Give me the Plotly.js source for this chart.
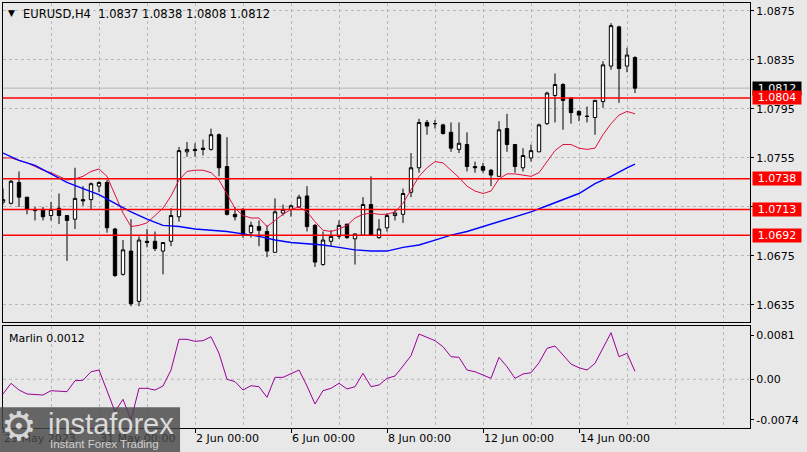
<!DOCTYPE html>
<html>
<head>
<meta charset="utf-8">
<script src="https://cdn.plot.ly/plotly-3.0.1.min.js"></script>
<style>
  html, body { margin: 0; padding: 0; background: #e8e8e8; }
  #chart { width: 807px; height: 452px; }
</style>
</head>
<body>
<div id="chart"></div>
<script>
// ---------- data ----------
const symbol = 'EURUSD';
const timeframe = 'H4';
const days = ['29 May','30 May','31 May','1 Jun','2 Jun','5 Jun','6 Jun','7 Jun','8 Jun','9 Jun','12 Jun','13 Jun','14 Jun','15 Jun'];
const hours = ['00:00','04:00','08:00','12:00','16:00','20:00'];

const open  = [1.0719,1.0718,1.0735,1.0723,1.0713,1.0713,1.0708,1.0714,1.0708,1.0705,
               1.0721,1.0721,1.0732,1.0735,1.0697,1.0660,1.0679,1.0638,1.0687,1.0687,
               1.0679,1.0687,1.0707,1.0760,1.0762,1.0763,1.0762,1.0774,1.0748,1.0709,
               1.0713,1.0694,1.0699,1.0695,1.0678,1.0710,1.0713,1.0715,1.0724,1.0700,
               1.0668,1.0687,1.0691,1.0701,1.0689,1.0692,1.0717,1.0690,1.0698,1.0708,
               1.0709,1.0727,1.0747,1.0784,1.0783,1.0782,1.0776,1.0762,1.0766,1.0748,
               1.0748,1.0745,1.0740,1.0779,1.0766,1.0747,1.0755,1.0760,1.0783,1.0806,
               1.0815,1.0804,1.0793,1.0789,1.0788,1.0801,1.0830,1.0862,1.0830,1.0837];
const high  = [1.0730,1.0737,1.0744,1.0723,1.0715,1.0715,1.0719,1.0726,1.0708,1.0747,
               1.0732,1.0735,1.0736,1.0737,1.0698,1.0688,1.0705,1.0691,1.0697,1.0695,
               1.0686,1.0714,1.0764,1.0768,1.0767,1.0770,1.0779,1.0775,1.0772,1.0715,
               1.0714,1.0703,1.0704,1.0700,1.0722,1.0717,1.0717,1.0725,1.0732,1.0701,
               1.0695,1.0696,1.0704,1.0701,1.0693,1.0723,1.0740,1.0705,1.0710,1.0713,
               1.0730,1.0759,1.0787,1.0786,1.0786,1.0783,1.0784,1.0784,1.0776,1.0752,
               1.0751,1.0746,1.0785,1.0791,1.0766,1.0763,1.0766,1.0783,1.0809,1.0824,
               1.0816,1.0804,1.0794,1.0797,1.0802,1.0834,1.0865,1.0863,1.0845,1.0838];
const low   = [1.0717,1.0717,1.0715,1.0709,1.0704,1.0704,1.0704,1.0701,1.0671,1.0697,
               1.0716,1.0713,1.0727,1.0694,1.0658,1.0659,1.0634,1.0634,1.0682,1.0679,
               1.0660,1.0683,1.0703,1.0756,1.0756,1.0757,1.0761,1.0740,1.0708,1.0704,
               1.0690,1.0690,1.0683,1.0674,1.0678,1.0708,1.0707,1.0714,1.0695,1.0666,
               1.0667,1.0683,1.0689,1.0689,1.0668,1.0692,1.0692,1.0689,1.0695,1.0704,
               1.0702,1.0723,1.0743,1.0774,1.0779,1.0774,1.0760,1.0759,1.0744,1.0743,
               1.0743,1.0732,1.0740,1.0760,1.0743,1.0744,1.0752,1.0760,1.0782,1.0784,
               1.0778,1.0783,1.0785,1.0784,1.0774,1.0796,1.0827,1.0800,1.0825,1.0808];
const close = [1.0721,1.0736,1.0723,1.0713,1.0712,1.0707,1.0713,1.0708,1.0704,1.0722,
               1.0720,1.0734,1.0735,1.0698,1.0659,1.0680,1.0636,1.0688,1.0686,1.0681,
               1.0686,1.0708,1.0761,1.0762,1.0761,1.0762,1.0774,1.0747,1.0709,1.0707,
               1.0692,1.0700,1.0696,1.0679,1.0711,1.0713,1.0716,1.0723,1.0699,1.0670,
               1.0688,1.0691,1.0700,1.0690,1.0693,1.0717,1.0692,1.0697,1.0708,1.0710,
               1.0726,1.0747,1.0784,1.0781,1.0783,1.0775,1.0763,1.0767,1.0748,1.0747,
               1.0745,1.0741,1.0778,1.0766,1.0748,1.0757,1.0761,1.0782,1.0808,1.0815,
               1.0802,1.0792,1.0790,1.0789,1.0802,1.0831,1.0863,1.0828,1.0839,1.0812];

// fast moving average (red), one value per bar
const maFast = [1.0755,1.0755,1.0753,1.0751,1.0748,1.0745,1.0743,1.0740,1.0737,1.0738,
                1.0740,1.0744,1.0746,1.0740,1.0725,1.0710,1.0699,1.0700,1.0702,1.0708,
                1.0714,1.0724,1.0737,1.0744,1.0745,1.0745,1.0743,1.0737,1.0726,1.0714,
                1.0708,1.0706,1.0706,1.0699,1.0704,1.0709,1.0713,1.0715,1.0711,1.0703,
                1.0696,1.0695,1.0697,1.0700,1.0706,1.0709,1.0710,1.0709,1.0709,1.0711,
                1.0718,1.0729,1.0740,1.0747,1.0752,1.0751,1.0745,1.0739,1.0732,1.0728,
                1.0726,1.0728,1.0738,1.0742,1.0742,1.0741,1.0740,1.0743,1.0752,1.0761,
                1.0766,1.0766,1.0763,1.0762,1.0763,1.0774,1.0783,1.0790,1.0793,1.0791];

// slow moving average (blue), read at these bars
const maSlowBars = [0,2,4,6,8,10,12,14,16,18,20,22,24,26,28,30,32,34,36,38,
                    40,42,44,46,48,50,52,54,56,58,60,62,64,66,68,70,72,74,76,78,79];
const maSlow = [1.0759,1.0753,1.0749,1.0742,1.0735,1.0730,1.0725,1.0718,1.0711,1.0705,
                1.0700,1.0699,1.0697,1.0696,1.0695,1.0693,1.0691,1.0688,1.0686,1.0685,
                1.0684,1.0682,1.0680,1.0679,1.0679,1.0682,1.0684,1.0688,1.0692,1.0695,
                1.0699,1.0703,1.0707,1.0711,1.0716,1.0721,1.0726,1.0734,1.0740,1.0747,1.0750];

// Marlin oscillator
const marlin = [-0.00223,-0.00061,-0.00163,-0.00223,-0.00231,-0.00239,-0.00173,-0.00178,-0.00188,-0.00021,
                -0.00015,0.00115,0.00141,-0.00173,-0.00492,-0.00304,-0.00618,-0.00137,-0.00137,-0.00163,
                -0.00102,0.00141,0.00608,0.00608,0.00577,0.00587,0.00647,0.00395,0.00000,-0.00036,
                -0.00163,-0.00097,-0.00112,-0.00274,0.00030,0.00030,0.00091,0.00141,-0.00102,-0.00375,
                -0.00173,-0.00137,-0.00061,-0.00147,-0.00112,0.00091,-0.00112,-0.00087,0.00015,0.00050,
                0.00202,0.00359,0.00688,0.00638,0.00587,0.00495,0.00343,0.00334,0.00141,0.00115,
                0.00065,0.00015,0.00334,0.00191,0.00015,0.00081,0.00100,0.00252,0.00471,0.00506,
                0.00369,0.00232,0.00176,0.00141,0.00243,0.00471,0.00708,0.00343,0.00395,0.00120];
const marlinMax = 0.0081;
const marlinMin = -0.0074;

const levels = [1.0804, 1.0738, 1.0713, 1.0692];

const priceTicks = [1.0875, 1.0835, 1.0795, 1.0755, 1.0715, 1.0675, 1.0635];
const priceTickText = ['1.0875', '1.0835', '1.0795', '1.0755', '', '1.0675', '1.0635'];
const tickTimes = ['29 May 00:00','31 May 00:00','2 Jun 00:00','6 Jun 00:00','8 Jun 00:00','12 Jun 00:00','14 Jun 00:00'];
const tickLabels = ['29 May 2023','31 May 00:00','2 Jun 00:00','6 Jun 00:00','8 Jun 00:00','12 Jun 00:00','14 Jun 00:00'];

// ---------- build ----------
const times = [];
days.forEach(d => hours.forEach(h => times.push(d + ' ' + h)));
times.length = open.length;
const bar = times.map((t, i) => i);
const tickBars = tickTimes.map(t => times.indexOf(t));
const last = open.length - 1;

const FONT = 'DejaVu Sans, Verdana, sans-serif';
const GRID = '#b8b8b8';
const BG = '#e8e8e8';

const traces = [
  {
    type: 'candlestick', x: bar, open, high, low, close,
    xaxis: 'x', yaxis: 'y',
    increasing: { fillcolor: '#ffffff', line: { color: '#000000', width: 1 } },
    decreasing: { fillcolor: '#000000', line: { color: '#000000', width: 1 } },
    whiskerwidth: 0, hoverinfo: 'skip'
  },
  {
    type: 'scatter', mode: 'lines', x: bar, y: maFast,
    xaxis: 'x', yaxis: 'y', line: { color: '#e0103c', width: 1 }, hoverinfo: 'skip'
  },
  {
    type: 'scatter', mode: 'lines', x: maSlowBars.map(i => bar[i]), y: maSlow,
    xaxis: 'x', yaxis: 'y', line: { color: '#0000ff', width: 1.4 }, hoverinfo: 'skip'
  },
  {
    type: 'scatter', mode: 'lines', x: bar, y: marlin,
    xaxis: 'x2', yaxis: 'y2', line: { color: '#990099', width: 1 }, hoverinfo: 'skip'
  }
];

const shapes = [];
// current price line
shapes.push({ type: 'line', xref: 'x domain', x0: 0, x1: 1, yref: 'y', y0: close[last], y1: close[last],
  line: { color: '#b4b4b4', width: 1 }, layer: 'below' });
levels.forEach(v => shapes.push({ type: 'line', xref: 'x domain', x0: 0, x1: 1, yref: 'y', y0: v, y1: v,
  line: { color: '#ff0000', width: 1.5 }, layer: 'above' }));
// zero line in oscillator
shapes.push({ type: 'line', xref: 'x2 domain', x0: 0, x1: 1, yref: 'y2', y0: 0, y1: 0,
  line: { color: GRID, width: 1, dash: '3px,3px' }, layer: 'below' });
// watermark plate
shapes.push({ type: 'rect', xref: 'paper', yref: 'paper', x0: -0.004, x1: 0.237, y0: -0.057, y1: 0.049,
  fillcolor: 'rgba(72,72,72,0.82)', line: { width: 0 }, layer: 'above' });

const annotations = [];
annotations.push({ xref: 'paper', yref: 'paper', x: 0, y: 1, xanchor: 'left', yanchor: 'top',
  xshift: 3, yshift: -3, text: '▼', showarrow: false, font: { family: FONT, size: 9, color: '#000' } });
annotations.push({ xref: 'paper', yref: 'paper', x: 0, y: 1, xanchor: 'left', yanchor: 'top',
  xshift: 18, yshift: -2, showarrow: false, font: { family: FONT, size: 11.5, color: '#000' },
  text: `${symbol},${timeframe}  ${open[last].toFixed(4)} ${high[last].toFixed(4)} ${low[last].toFixed(4)} ${close[last].toFixed(4)}` });
annotations.push({ xref: 'x2 domain', yref: 'y2 domain', x: 0, y: 1, xanchor: 'left', yanchor: 'top',
  xshift: 4, yshift: -4, showarrow: false, font: { family: FONT, size: 11, color: '#000' },
  text: `Marlin ${marlin[last].toFixed(4)}` });
// price labels on the right
annotations.push({ xref: 'paper', yref: 'y', x: 1, y: close[last], xanchor: 'left', yanchor: 'middle', xshift: 2,
  text: close[last].toFixed(4), showarrow: false, bgcolor: '#000000', borderpad: 0, width: 48, height: 13,
  font: { family: FONT, size: 11, color: '#ffffff' } });
levels.forEach(v => annotations.push({ xref: 'paper', yref: 'y', x: 1, y: v, xanchor: 'left', yanchor: 'middle', xshift: 2,
  text: v.toFixed(4), showarrow: false, bgcolor: '#ff0000', borderpad: 0, width: 48, height: 13,
  font: { family: FONT, size: 11, color: '#ffffff' } }));
// watermark text
annotations.push({ xref: 'paper', yref: 'paper', x: 0, y: -0.056, xanchor: 'left', yanchor: 'bottom', xshift: -4, yshift: 1,
  text: '⚙', showarrow: false, font: { family: 'DejaVu Sans', size: 40, color: '#d6d6d6' } });
annotations.push({ xref: 'paper', yref: 'paper', x: 0, y: 0.05, xanchor: 'left', yanchor: 'top', xshift: 43, yshift: 1,
  text: 'instaforex', showarrow: false, font: { family: 'Liberation Sans', size: 29, color: '#dadada' } });
annotations.push({ xref: 'paper', yref: 'paper', x: 0, y: -0.056, xanchor: 'left', yanchor: 'bottom', xshift: 45, yshift: 0,
  text: 'Instant Forex Trading', showarrow: false, font: { family: 'Liberation Sans', size: 11.5, color: '#d0d0d0' } });

const xRange = [0, 93.375];
const commonX = {
  range: xRange, tickmode: 'array', tickvals: tickBars, ticktext: tickLabels,
  showgrid: true, gridcolor: GRID, griddash: '3px,3px', gridwidth: 1,
  minor: { tick0: 0, dtick: 6, showgrid: true, gridcolor: GRID, griddash: '3px,3px', gridwidth: 1, ticks: '' },
  showline: true, mirror: true, linecolor: '#000', linewidth: 1, zeroline: false, fixedrange: true
};

const layout = {
  width: 807, height: 452,
  paper_bgcolor: BG, plot_bgcolor: BG,
  margin: { l: 3, r: 57, t: 3, b: 24 },
  showlegend: false,
  font: { family: FONT, size: 11, color: '#000' },
  xaxis: Object.assign({}, commonX, { domain: [0, 1], anchor: 'y', showticklabels: false, ticks: '',
    rangeslider: { visible: false } }),
  xaxis2: Object.assign({}, commonX, { domain: [0, 1], anchor: 'y2', matches: 'x', showticklabels: true,
    ticks: 'outside', ticklen: 4, tickcolor: '#000', ticklabelposition: 'outside right',
    tickfont: { family: FONT, size: 11, color: '#000' } }),
  yaxis: {
    domain: [0.2494, 1], anchor: 'x', side: 'right', range: [1.06211, 1.08815],
    tickmode: 'array', tickvals: priceTicks, ticktext: priceTickText,
    ticks: 'outside', ticklen: 3, tickcolor: '#000',
    showgrid: true, gridcolor: GRID, griddash: '3px,3px', gridwidth: 1,
    showline: true, mirror: true, linecolor: '#000', linewidth: 1, zeroline: false, fixedrange: true,
    tickfont: { family: FONT, size: 11, color: '#000' }
  },
  yaxis2: {
    domain: [0, 0.24], anchor: 'x2', side: 'right', range: [marlinMin, marlinMax],
    tickmode: 'array', tickvals: [marlinMax - 0.00137, 0, marlinMin + 0.00122],
    ticktext: [marlinMax.toFixed(4), '0.00', marlinMin.toFixed(4)],
    ticks: 'outside', ticklen: 3, tickcolor: '#000', showgrid: false,
    showline: true, mirror: true, linecolor: '#000', linewidth: 1, zeroline: false, fixedrange: true,
    tickfont: { family: FONT, size: 11, color: '#000' }
  },
  boxgap: 0.4,
  shapes, annotations
};

Plotly.newPlot('chart', traces, layout, { staticPlot: true, displayModeBar: false });
</script>
</body>
</html>
